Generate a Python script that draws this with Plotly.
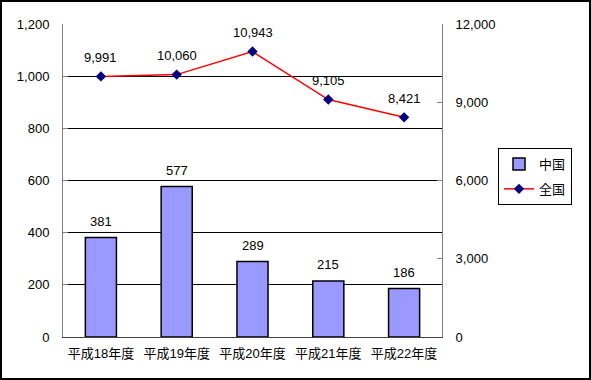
import plotly.graph_objects as go

categories = ["平成18年度", "平成19年度", "平成20年度", "平成21年度", "平成22年度"]
chugoku = [381, 577, 289, 215, 186]
zenkoku = [9991, 10060, 10943, 9105, 8421]
left_ticks = [0, 200, 400, 600, 800, 1000, 1200]
right_ticks = [0, 3000, 6000, 9000, 12000]

W, H = 591, 380
ML, MR, MT, MB = 63, 149, 24, 43
PW = W - ML - MR
PH = H - MT - MB

FONT = "Liberation Sans, Noto Sans CJK JP, sans-serif"
FS = 13

fig = go.Figure()
fig.add_trace(go.Bar(
    x=categories, y=chugoku, name="中国", legendgroup="a",
    marker=dict(color="#9999FF", line=dict(color="#000000", width=1.5)),
    yaxis="y",
))
fig.add_trace(go.Scatter(
    x=categories, y=zenkoku, name="全国", mode="lines+markers", legendgroup="b",
    line=dict(color="#FF0000", width=1.5),
    marker=dict(symbol="diamond", color="#000080", size=8),
    yaxis="y2",
))

annotations = []
for c, v in zip(categories, chugoku):
    annotations.append(dict(
        x=c, y=v, xref="x", yref="y", text=f"{v:,}", showarrow=False,
        yanchor="middle", yshift=16, font=dict(size=FS, color="#000000"),
    ))
for c, v in zip(categories, zenkoku):
    annotations.append(dict(
        x=c, y=v, xref="x", yref="y2", text=f"{v:,}", showarrow=False,
        yanchor="middle", yshift=19, font=dict(size=FS, color="#000000"),
    ))

fig.update_layout(
    width=W, height=H,
    margin=dict(l=ML, r=MR, t=MT, b=MB),
    paper_bgcolor="white", plot_bgcolor="white",
    font=dict(family=FONT, size=FS, color="#000000"),
    bargap=0.59,
    showlegend=True,
    annotations=annotations,
    legend=dict(
        x=(498 - ML) / PW, y=(H - MB - 148) / PH, xanchor="left", yanchor="top",
        bordercolor="#000000", borderwidth=1, bgcolor="white",
        font=dict(size=FS, family=FONT), traceorder="grouped", tracegroupgap=5,
        itemwidth=30,
    ),
    xaxis=dict(
        showline=True, linecolor="#404040", linewidth=1,
        ticks="", tickfont=dict(size=FS), showgrid=False, ticklabelstandoff=4,
    ),
    yaxis=dict(
        range=[0, 1200], tickvals=left_ticks,
        ticktext=[f"{v:,}" for v in left_ticks],
        showline=True, linecolor="#808080", linewidth=1,
        ticks="inside", ticklen=5, tickcolor="#808080",
        showgrid=True, gridcolor="#000000", gridwidth=1,
        zeroline=False, tickfont=dict(size=FS), ticklabelstandoff=10,
    ),
    yaxis2=dict(
        range=[0, 12000], tickvals=right_ticks,
        ticktext=[f"{v:,}" for v in right_ticks],
        overlaying="y", side="right",
        showline=True, linecolor="#808080", linewidth=1,
        ticks="inside", ticklen=5, tickcolor="#808080",
        showgrid=False, zeroline=False, tickfont=dict(size=FS),
        ticklabelstandoff=10,
    ),
    shapes=[dict(
        type="rect", xref="paper", yref="paper",
        x0=-ML / PW + 1 / PW, x1=(PW + MR) / PW - 1 / PW,
        y0=-MB / PH + 1 / PH, y1=(PH + MT) / PH - 1 / PH,
        line=dict(color="#000000", width=2), fillcolor="rgba(0,0,0,0)",
        layer="above",
    )],
)

fig.write_html(
    "out.html",
    config={"displayModeBar": False},
    post_script="document.body.style.margin='0';document.body.style.overflow='hidden';",
)
